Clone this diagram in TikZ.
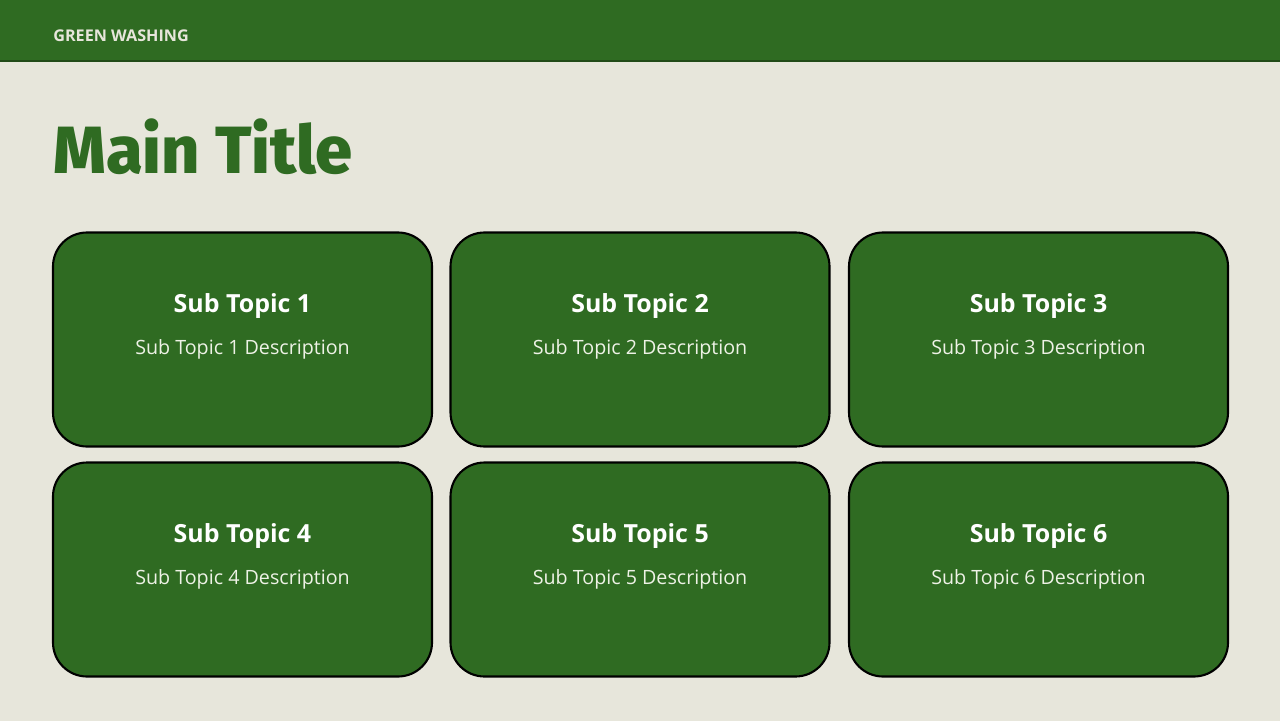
\documentclass[tikz,border=0pt]{standalone}
\usepackage{fontspec}
\setmainfont{Open Sans}
\newfontfamily\titlefont{Fira Sans}[UprightFont=* ExtraBold]
\usetikzlibrary{positioning}

\definecolor{leaf}{HTML}{2F6B22}
\definecolor{paper}{HTML}{E7E6DB}
\definecolor{chalk}{HTML}{EEF2E6}

\tikzstyle{topicbox} = [rounded corners=34\pxu, fill=leaf, draw=black, line width=1.2pt, minimum width=379\pxu, minimum height=214\pxu, inner sep=0pt]
\tikzstyle{topichead} = [text=white, font=\fontsize{14.2}{16}\selectfont\bfseries]
\tikzstyle{topicdesc} = [text=chalk, font=\fontsize{11.2}{14}\selectfont]

\newcommand{\pxu}{*0.02cm}

\begin{document}
\begin{tikzpicture}[x=0.02cm, y=-0.02cm]
      % page and header
      \useasboundingbox (0,0) rectangle (1280,720);
      \fill[paper] (-2,-2) rectangle (1282,722);
      \fill[leaf] (-2,-2) rectangle (1282,61);
      \draw[leaf!70!black, line width=1pt] (-2,61) -- (1282,61);
      \node[anchor=base west, text=paper, inner sep=0pt, font=\fontsize{9.2}{11}\selectfont\bfseries] (header) at (53,41) {GREEN WASHING};
      \node[anchor=base west, text=leaf, font=\fontsize{38}{40}\selectfont\titlefont, inner sep=0pt] (title) at (53,173) {Main Title};

      % six topic boxes
      \node[topicbox] (box1) at (242.5,339.5) {};
      \node[topicbox] (box2) at (640,339.5) {};
      \node[topicbox] (box3) at (1038.5,339.5) {};
      \node[topicbox] (box4) at (242.5,569.5) {};
      \node[topicbox] (box5) at (640,569.5) {};
      \node[topicbox] (box6) at (1038.5,569.5) {};

      \node[topichead] (head1) at ([yshift=-75\pxu]box1.north) {Sub Topic 1};
      \node[topichead] (head2) at ([yshift=-75\pxu]box2.north) {Sub Topic 2};
      \node[topichead] (head3) at ([yshift=-75\pxu]box3.north) {Sub Topic 3};
      \node[topichead] (head4) at ([yshift=-75\pxu]box4.north) {Sub Topic 4};
      \node[topichead] (head5) at ([yshift=-75\pxu]box5.north) {Sub Topic 5};
      \node[topichead] (head6) at ([yshift=-75\pxu]box6.north) {Sub Topic 6};

      \node[topicdesc] (desc1) at ([yshift=-118\pxu]box1.north) {Sub Topic 1 Description};
      \node[topicdesc] (desc2) at ([yshift=-118\pxu]box2.north) {Sub Topic 2 Description};
      \node[topicdesc] (desc3) at ([yshift=-118\pxu]box3.north) {Sub Topic 3 Description};
      \node[topicdesc] (desc4) at ([yshift=-118\pxu]box4.north) {Sub Topic 4 Description};
      \node[topicdesc] (desc5) at ([yshift=-118\pxu]box5.north) {Sub Topic 5 Description};
      \node[topicdesc] (desc6) at ([yshift=-118\pxu]box6.north) {Sub Topic 6 Description};
\end{tikzpicture}
\end{document}
